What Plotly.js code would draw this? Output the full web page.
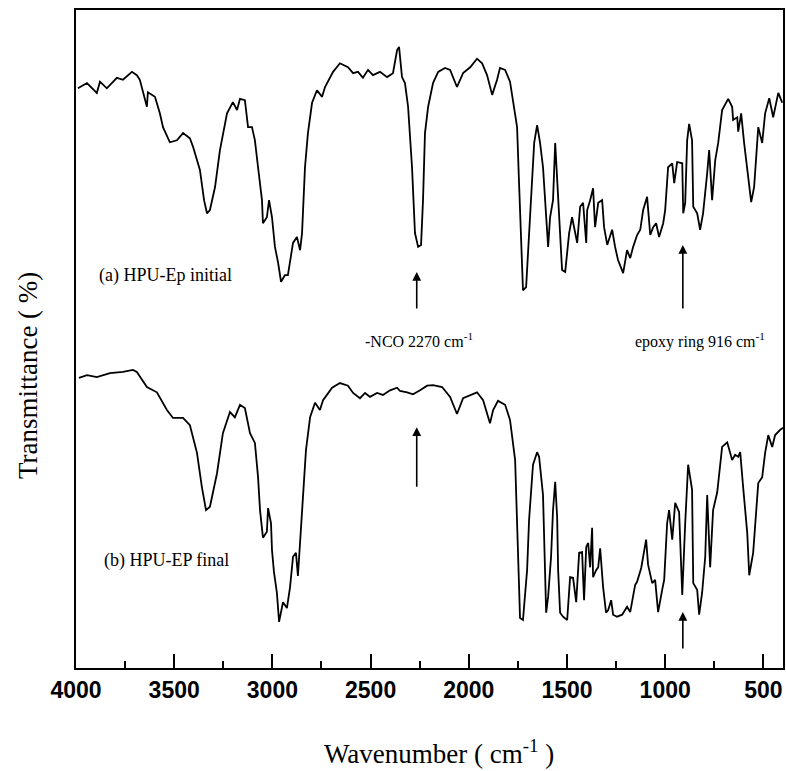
<!DOCTYPE html>
<html>
<head>
<meta charset="utf-8">
<script src="https://cdn.plot.ly/plotly-3.0.1.min.js"></script>
<style>
html,body{margin:0;padding:0;background:#fff;}
#chart{width:786px;height:771px;}
</style>
</head>
<body>
<div id="chart"></div>
<script>
// Spectrum (a) HPU-Ep initial: wavenumber (cm-1) and transmittance (offset, arbitrary %)
const waveA = [3990,3944,3894,3878,3843,3792,3761,3715,3690,3675,3639,3634,3598,3573,3557,3522,3486,3455,3420,3404,3369,3348,3333,3318,3292,3267,3231,3201,3180,3165,3140,3124,3104,3089,3073,3053,3048,3028,3017,3002,2987,2971,2956,2936,2921,2895,2875,2859,2849,2834,2819,2798,2773,2747,2732,2691,2656,2615,2589,2564,2539,2513,2488,2452,2416,2386,2365,2355,2340,2325,2309,2289,2274,2258,2243,2233,2223,2207,2182,2156,2121,2095,2060,2029,1993,1958,1932,1907,1881,1856,1841,1815,1790,1774,1754,1744,1729,1724,1708,1693,1678,1667,1652,1637,1622,1606,1596,1586,1571,1560,1550,1540,1525,1509,1499,1489,1474,1458,1448,1433,1418,1402,1397,1382,1367,1357,1341,1321,1311,1295,1270,1255,1240,1214,1194,1178,1163,1143,1127,1112,1092,1076,1061,1046,1031,1010,1000,985,964,954,939,913,908,898,888,878,863,857,837,822,807,786,776,761,745,730,710,679,659,654,633,628,613,598,582,562,547,526,506,491,470,450,424,404];
const transA = [88.1,88.9,87.4,89.1,88.1,89.7,89.4,90.6,90.1,89.4,85.3,87.5,86.8,84.3,82.2,79.9,80.2,81.3,80.5,79.2,75.7,71.1,69.1,69.6,73.1,78.7,84.3,86.0,84.8,86.5,86.3,82.2,82.2,80.2,76.1,71.1,67.6,68.5,71.1,68.5,64.0,61.6,58.7,59.7,59.7,64.6,65.5,63.5,66.1,76.1,81.3,85.9,87.8,86.8,88.3,90.6,91.9,91.3,90.4,90.6,89.7,90.9,90.1,90.6,89.8,90.4,93.9,94.4,89.8,88.9,85.3,76.1,66.1,64.0,64.3,71.1,81.3,85.3,88.9,90.6,91.2,90.9,88.3,90.4,91.3,92.6,91.9,90.1,87.1,89.4,91.2,90.9,89.1,86.3,82.2,73.7,60.9,57.4,57.9,66.1,73.1,79.8,82.5,79.8,76.1,68.5,64.0,68.5,71.1,79.8,74.6,69.1,60.5,60.2,63.1,66.1,68.5,66.1,64.6,70.1,70.7,64.6,69.6,71.1,72.9,67.0,70.7,71.1,67.0,64.3,66.6,64.0,62.0,60.0,63.5,62.3,64.0,65.8,66.6,69.6,71.6,65.8,67.0,67.6,65.5,67.6,69.6,76.1,76.7,73.7,76.9,76.7,69.1,70.7,80.2,82.7,80.2,70.1,69.1,66.6,69.1,75.2,78.7,71.1,77.2,79.8,84.8,86.5,85.3,83.3,83.7,81.5,84.3,79.8,76.1,70.8,73.1,82.2,79.8,84.3,86.6,83.7,87.4,85.9];

// Spectrum (b) HPU-EP final
const waveB = [3985,3944,3894,3827,3761,3710,3690,3639,3588,3537,3506,3455,3420,3384,3359,3338,3318,3282,3252,3216,3191,3165,3140,3114,3089,3073,3063,3048,3028,3022,3007,3002,2992,2977,2966,2946,2926,2910,2895,2880,2870,2859,2849,2834,2829,2808,2783,2758,2742,2696,2656,2615,2589,2554,2528,2503,2467,2437,2401,2365,2350,2314,2284,2248,2212,2182,2136,2095,2060,2029,1993,1958,1927,1892,1876,1851,1815,1790,1764,1754,1744,1739,1724,1703,1693,1673,1652,1642,1622,1606,1596,1581,1571,1560,1550,1545,1535,1520,1499,1484,1469,1453,1438,1423,1413,1402,1392,1382,1372,1367,1351,1341,1331,1316,1301,1290,1275,1265,1245,1219,1194,1178,1153,1143,1122,1112,1097,1087,1066,1051,1036,1015,1005,990,980,964,949,929,913,898,883,863,857,837,827,812,796,786,771,756,735,710,684,659,644,628,618,603,582,572,552,526,506,491,475,455,440,414,399];
const transB = [44.1,44.5,44.2,44.8,45.0,45.3,45.0,42.7,41.9,39.2,38.0,38.0,36.9,32.7,27.5,24.0,24.5,29.6,35.7,38.9,38.1,40.0,39.5,35.7,34.2,29.0,24.0,19.8,20.7,24.3,22.0,17.9,14.6,11.4,7.0,10.0,9.1,12.3,16.9,17.5,14.0,19.0,25.1,31.6,33.1,38.1,40.3,39.2,40.7,42.6,43.3,42.9,41.8,41.0,41.8,41.2,41.8,41.5,42.2,42.6,42.1,41.9,41.6,42.2,42.9,43.0,42.7,41.2,38.6,41.0,41.5,41.9,40.7,37.2,39.2,40.6,40.0,37.7,31.6,20.5,10.3,7.6,7.3,14.9,22.5,30.9,32.8,32.1,26.3,8.4,10.8,16.9,24.0,28.3,22.9,14.9,8.4,7.8,7.3,13.8,13.7,10.0,17.5,17.6,10.3,18.4,19.0,15.3,21.3,13.8,14.9,15.3,18.2,12.3,8.4,8.8,10.3,8.1,7.8,8.1,9.3,8.5,12.6,13.1,15.2,17.2,19.5,15.7,12.9,13.4,8.5,11.9,13.4,22.0,24.0,19.5,25.1,23.7,11.1,22.0,30.9,27.1,12.9,11.9,8.1,11.4,16.9,26.3,15.3,24.0,26.7,33.6,34.3,31.6,32.4,32.1,32.8,27.5,20.5,14.1,17.5,28.1,29.0,32.7,35.4,33.6,35.4,36.2,36.5];

// Marker arrows: wavenumber, head transmittance, shaft length (px)
const arrowWave = [2265, 910, 2265, 910];
const arrowHead = [60.2, 64.3, 36.6, 8.5];
const arrowLen = [38, 65, 61, 38];

// Tick labels
const tickVals = [4000,3500,3000,2500,2000,1500,1000,500];
const tickText = ["4000","3500","3000","2500","2000","1500","1000","500"];

// Labels
const labelA = "(a) HPU-Ep initial";
const labelB = "(b) HPU-EP final";
const labelNCO = "-NCO 2270 cm<sup>-1</sup>";
const labelEpoxy = "epoxy ring 916 cm<sup>-1</sup>";
const xTitle = "Wavenumber ( cm<sup>-1</sup> )";
const yTitle = "Transmittance ( %)";

if (waveA.length !== transA.length) throw new Error("A length mismatch " + waveA.length + " vs " + transA.length);
if (waveB.length !== transB.length) throw new Error("B length mismatch " + waveB.length + " vs " + transB.length);

const serif = "'Liberation Serif', 'Times New Roman', Times, serif";
const sans = "'Liberation Sans', Arial, sans-serif";

const lineStyle = {color: "#000", width: 1.8};
const traces = [
  {x: waveA, y: transA, type: "scatter", mode: "lines", line: lineStyle, name: "a", hoverinfo: "x+y"},
  {x: waveB, y: transB, type: "scatter", mode: "lines", line: lineStyle, name: "b", hoverinfo: "x+y"}
];

const arrows = arrowWave.map((w, i) => ({x: w, y: arrowHead[i], xref: "x", yref: "y", text: "", showarrow: true,
    ax: 0, ay: arrowLen[i], arrowhead: 2, arrowsize: 1.1, arrowwidth: 1.6, arrowcolor: "#000", standoff: 0}));

const layout = {
  width: 786, height: 771,
  margin: {l: 76, r: 3, t: 10, b: 103, pad: 0},
  paper_bgcolor: "#fff", plot_bgcolor: "#fff",
  showlegend: false,
  font: {family: serif, color: "#000"},
  xaxis: {
    range: [4000, 400], showgrid: false, zeroline: false,
    showline: true, linecolor: "#000", linewidth: 2, mirror: true,
    ticks: "inside", ticklen: 14, tickwidth: 2, tickcolor: "#000",
    tickvals: tickVals, ticktext: tickText, ticklabeloverflow: "allow",
    tickfont: {family: sans, size: 23, color: "#000", weight: "bold"},
    minor: {dtick: 250, ticks: "inside", ticklen: 7, tickwidth: 2, tickcolor: "#000", showgrid: false}
  },
  yaxis: {
    range: [0, 100], showgrid: false, zeroline: false,
    showline: true, linecolor: "#000", linewidth: 2, mirror: true,
    ticks: "", showticklabels: false
  },
  annotations: [
    {x: 0.0297, y: 0.596, xref: "paper", yref: "paper", text: labelA, showarrow: false, xanchor: "left", yanchor: "middle",
      font: {family: serif, size: 18, color: "#000"}},
    {x: 0.0368, y: 0.164, xref: "paper", yref: "paper", text: labelB, showarrow: false, xanchor: "left", yanchor: "middle",
      font: {family: serif, size: 18, color: "#000"}},
    {x: 0.406, y: 0.498, xref: "paper", yref: "paper", text: labelNCO, showarrow: false, xanchor: "left", yanchor: "middle",
      font: {family: serif, size: 16, color: "#000"}},
    {x: 0.788, y: 0.497, xref: "paper", yref: "paper", text: labelEpoxy, showarrow: false, xanchor: "left", yanchor: "middle",
      font: {family: serif, size: 16, color: "#000"}},
    {x: -0.068, y: 0.445, xref: "paper", yref: "paper", text: yTitle, showarrow: false, textangle: -90,
      xanchor: "center", yanchor: "middle", font: {family: serif, size: 27, color: "#000"}},
    {x: 0.513, y: -0.128, xref: "paper", yref: "paper", text: xTitle, showarrow: false,
      xanchor: "center", yanchor: "middle", font: {family: serif, size: 27, color: "#000"}}
  ].concat(arrows)
};

Plotly.newPlot("chart", traces, layout, {displayModeBar: false});
</script>
</body>
</html>
